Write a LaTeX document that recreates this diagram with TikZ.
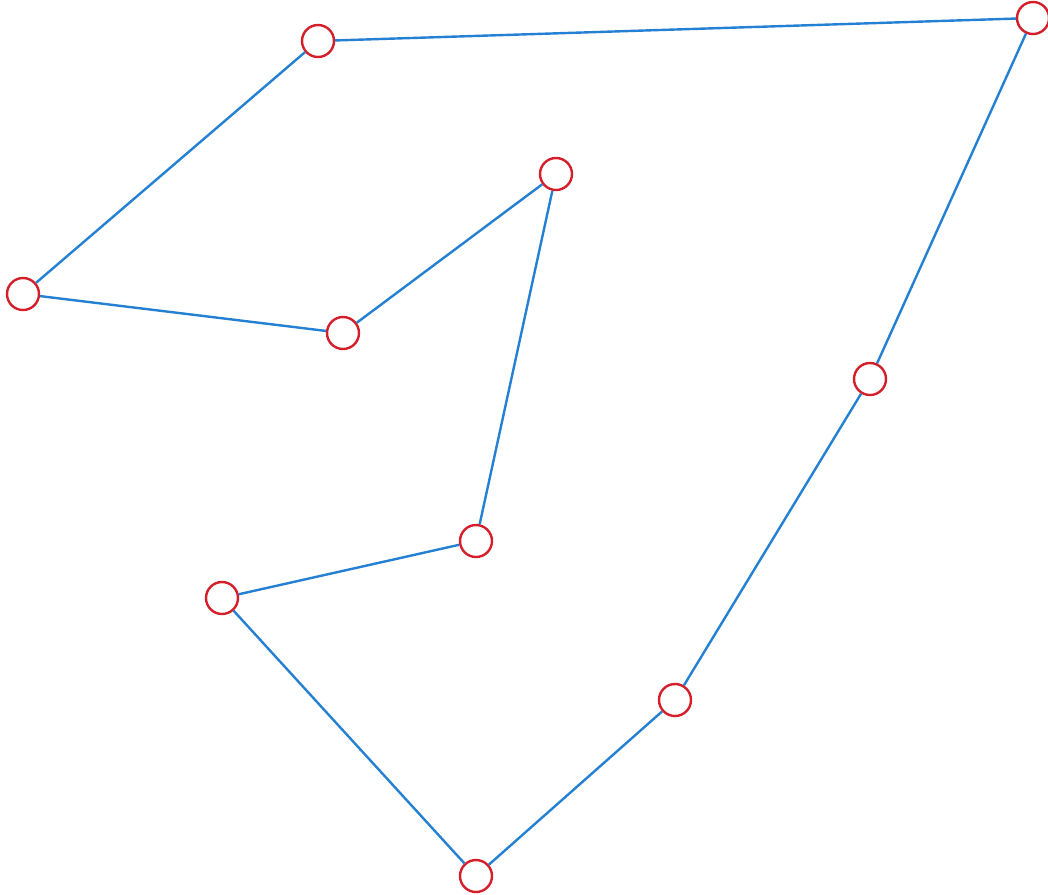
\documentclass[tikz,border=0pt]{standalone}
\usepackage{tikz}
\definecolor{edgeblue}{RGB}{36,128,210}
\definecolor{ringred}{RGB}{212,30,42}
\tikzstyle{vertex}=[circle, draw=ringred, fill=white, line width=1.8pt, minimum size = 24pt, inner sep=0pt]
\tikzstyle{edge}=[draw=edgeblue, line width=1.8pt]

\begin{document}
\begin{tikzpicture}
        [x=0.75pt,y=-0.75pt]
            \useasboundingbox (0,0) rectangle (1048,894);
            \node [vertex] (v1) at (318,41) {};
            \node [vertex] (v2) at (1033,18) {};
            \node [vertex] (v3) at (870,379) {};
            \node [vertex] (v4) at (675,700) {};
            \node [vertex] (v5) at (476,876) {};
            \node [vertex] (v6) at (222,598) {};
            \node [vertex] (v7) at (476,541) {};
            \node [vertex] (v8) at (556,174) {};
            \node [vertex] (v9) at (343,333) {};
            \node [vertex] (v10) at (23,294) {};
            \draw [edge] (v1) -- (v2) -- (v3) -- (v4) -- (v5) -- (v6) -- (v7) -- (v8) -- (v9) -- (v10) -- (v1);
        \end{tikzpicture}
\end{document}
